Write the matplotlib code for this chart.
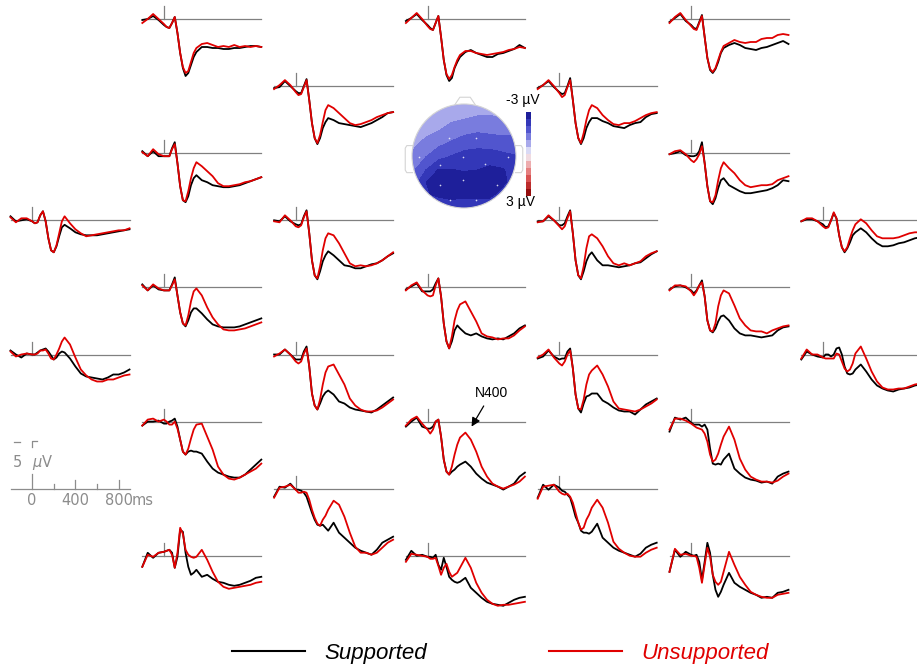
import numpy as np
import matplotlib
matplotlib.use("Agg")
import matplotlib.pyplot as plt
from matplotlib.colors import LinearSegmentedColormap
from matplotlib.patches import Circle, Polygon

plt.rcParams['font.family'] = ['Liberation Sans', 'DejaVu Sans']

W, H = 917, 668

# sample times (ms)
times = [-200, -150, -100, -50, 0, 25, 50, 75, 100, 125, 150, 175, 200, 225, 250,
         275, 300, 350, 400, 450, 500, 550, 600, 650, 700, 750, 800, 850, 900]

# grand averages in microvolts (negative plotted up), named by montage column / row
sup_c1_r0 = [0.1, 0.0, -0.3, 0.1, 0.6, 0.8, 0.9, 0.4, -0.2, 1.4, 3.4, 4.9, 5.7, 5.4, 4.6, 3.8, 3.3, 2.8, 2.8, 2.9, 2.9, 3.0, 3.0, 2.9, 2.9, 2.8, 2.7, 2.7, 2.8]
uns_c1_r0 = [0.4, 0.0, -0.5, 0.0, 0.5, 0.8, 0.9, 0.4, -0.2, 1.4, 3.4, 4.8, 5.4, 5.2, 4.3, 3.4, 2.9, 2.5, 2.4, 2.6, 2.8, 2.7, 2.8, 2.6, 2.8, 2.7, 2.8, 2.7, 2.8]
sup_c1_r2 = [-0.2, 0.3, -0.2, 0.3, 0.3, 0.3, 0.3, -0.5, -1.1, 1.0, 3.3, 4.7, 4.9, 4.3, 3.2, 2.5, 2.2, 2.7, 2.9, 3.2, 3.3, 3.4, 3.4, 3.3, 3.2, 3.0, 2.8, 2.6, 2.4]
uns_c1_r2 = [-0.1, 0.3, -0.4, 0.1, 0.3, 0.3, 0.3, -0.4, -0.9, 1.0, 3.3, 4.7, 4.8, 3.8, 2.5, 1.5, 0.9, 1.3, 1.8, 2.3, 3.0, 3.3, 3.3, 3.2, 3.1, 2.9, 2.8, 2.6, 2.4]
sup_c0_r3 = [-0.4, 0.1, 0.0, -0.1, 0.1, 0.3, 0.2, -0.5, -0.9, 0.1, 1.8, 3.0, 3.2, 2.6, 1.6, 0.7, 0.45, 0.8, 1.2, 1.4, 1.5, 1.5, 1.5, 1.4, 1.3, 1.2, 1.1, 1.0, 0.9]
uns_c0_r3 = [-0.3, 0.2, -0.2, -0.2, 0.1, 0.3, 0.2, -0.5, -0.9, 0.1, 1.8, 3.0, 3.2, 2.5, 1.3, 0.1, -0.4, 0.3, 0.9, 1.3, 1.6, 1.5, 1.4, 1.3, 1.2, 1.1, 1.0, 1.0, 0.8]
sup_c1_r4 = [-0.3, 0.3, -0.2, 0.2, 0.3, 0.3, 0.3, -0.3, -1.0, 0.8, 2.5, 3.6, 3.9, 3.3, 2.5, 2.1, 2.1, 2.6, 3.2, 3.7, 3.9, 4.0, 4.0, 4.0, 3.9, 3.7, 3.5, 3.3, 3.1]
uns_c1_r4 = [-0.2, 0.3, -0.3, 0.1, 0.3, 0.3, 0.3, -0.2, -0.8, 0.8, 2.5, 3.6, 3.8, 2.8, 1.4, 0.4, 0.1, 0.8, 2.0, 3.0, 3.7, 4.2, 4.3, 4.3, 4.2, 4.1, 3.9, 3.7, 3.5]
sup_c0_r5 = [-0.4, 0.0, 0.3, -0.1, 0.0, 0.0, -0.2, -0.4, -0.5, -0.6, -0.3, 0.1, 0.5, 0.3, -0.1, -0.3, -0.2, 0.4, 1.2, 1.9, 2.2, 2.3, 2.4, 2.5, 2.3, 2.0, 2.0, 1.8, 1.5]
uns_c0_r5 = [-0.3, 0.2, 0.0, -0.1, 0.0, 0.0, -0.1, -0.4, -0.4, -0.5, -0.1, 0.4, 0.5, 0.0, -0.6, -1.3, -1.7, -1.0, 0.3, 1.5, 2.1, 2.5, 2.7, 2.7, 2.5, 2.5, 2.3, 2.1, 2.0]
sup_c1_r6 = [0.4, 0.0, 0.0, -0.1, 0.2, 0.2, 0.0, -0.1, -0.3, 0.5, 1.8, 3.0, 3.3, 3.0, 2.9, 3.0, 3.0, 3.2, 4.0, 4.7, 5.1, 5.3, 5.5, 5.6, 5.6, 5.3, 4.8, 4.3, 3.8]
uns_c1_r6 = [0.4, -0.2, -0.3, 0.0, -0.2, 0.0, 0.3, 0.3, 0.0, 0.7, 1.8, 3.0, 3.3, 2.7, 1.7, 0.8, 0.3, 0.2, 1.5, 2.8, 4.5, 5.3, 5.7, 5.8, 5.6, 5.3, 5.0, 4.7, 4.2]
sup_c1_r8 = [1.1, -0.3, 0.2, -0.3, -0.4, -0.5, -0.6, -0.3, 1.2, 0.1, -2.6, -2.4, -0.3, 1.1, 1.9, 1.7, 1.4, 2.1, 1.9, 2.3, 2.6, 2.7, 2.9, 3.0, 2.9, 2.7, 2.5, 2.2, 2.1]
uns_c1_r8 = [1.1, -0.1, 0.1, -0.3, -0.4, -0.5, -0.6, -0.1, 1.2, -0.3, -2.8, -2.2, -0.6, -0.1, 0.1, 0.2, 0.1, -0.6, 0.4, 1.6, 2.6, 3.1, 3.3, 3.2, 3.1, 3.0, 2.9, 2.7, 2.6]
sup_c2_r1 = [0.2, 0.1, -0.5, 0.0, 0.5, 0.7, 0.7, 0.0, -0.7, 1.4, 3.7, 5.2, 5.8, 5.2, 4.2, 3.6, 3.2, 3.4, 3.7, 3.8, 3.9, 4.0, 4.1, 3.9, 3.7, 3.4, 3.1, 2.7, 2.6]
uns_c2_r1 = [0.3, -0.1, -0.6, -0.1, 0.6, 0.9, 0.8, 0.1, -0.6, 1.4, 3.7, 5.2, 5.7, 4.9, 3.6, 2.4, 1.9, 2.2, 2.7, 3.2, 3.7, 3.9, 3.8, 3.6, 3.4, 3.1, 2.9, 2.7, 2.6]
sup_c2_r3 = [0.0, 0.1, -0.4, 0.1, 0.4, 0.5, 0.4, -0.4, -1.0, 1.3, 4.0, 5.5, 5.9, 5.1, 4.1, 3.5, 3.1, 3.5, 4.0, 4.5, 4.6, 4.8, 4.8, 4.6, 4.4, 4.3, 4.0, 3.6, 3.3]
uns_c2_r3 = [0.1, 0.2, -0.5, 0.0, 0.6, 0.7, 0.5, -0.3, -0.9, 1.3, 4.0, 5.5, 5.8, 4.6, 3.0, 1.8, 1.3, 1.5, 2.3, 3.3, 4.3, 4.6, 4.5, 4.6, 4.5, 4.3, 4.0, 3.6, 3.2]
sup_c2_r5 = [0.0, 0.0, -0.5, 0.0, 0.5, 0.5, 0.5, -0.3, -0.8, 1.2, 3.9, 5.1, 5.5, 4.9, 4.2, 3.8, 3.6, 4.0, 4.7, 4.9, 5.3, 5.5, 5.6, 5.7, 5.8, 5.5, 5.1, 4.7, 4.3]
uns_c2_r5 = [0.2, -0.1, -0.5, 0.0, 0.7, 0.9, 0.7, -0.1, -0.6, 1.2, 3.9, 5.1, 5.5, 4.5, 3.0, 1.8, 1.2, 1.0, 2.0, 3.0, 4.4, 5.1, 5.5, 5.7, 5.7, 5.6, 5.3, 4.9, 4.5]
sup_c2_r7 = [0.8, -0.2, -0.1, -0.5, 0.1, 0.1, 0.2, 0.4, 0.8, 1.6, 2.4, 3.1, 3.6, 3.7, 3.6, 3.9, 4.2, 3.4, 4.4, 4.9, 5.4, 5.9, 6.2, 6.4, 6.6, 6.1, 5.4, 5.1, 4.8]
uns_c2_r7 = [0.9, -0.1, -0.2, -0.4, 0.1, 0.4, 0.4, 0.3, 0.4, 1.1, 2.1, 2.9, 3.5, 3.7, 3.1, 2.7, 2.1, 1.2, 1.6, 2.8, 4.4, 5.8, 6.4, 6.4, 6.6, 6.4, 5.9, 5.4, 5.1]
sup_c3_r0 = [0.2, -0.1, -0.5, 0.1, 0.6, 0.9, 1.1, 0.4, -0.3, 1.8, 4.1, 5.6, 6.2, 5.9, 4.9, 4.3, 3.8, 3.3, 3.1, 3.4, 3.6, 3.8, 3.8, 3.5, 3.4, 3.2, 3.0, 2.6, 2.9]
uns_c3_r0 = [0.4, -0.1, -0.6, 0.0, 0.7, 1.0, 1.1, 0.4, -0.3, 1.8, 4.1, 5.5, 6.0, 5.6, 4.8, 4.1, 3.6, 3.2, 3.2, 3.4, 3.5, 3.6, 3.5, 3.4, 3.3, 3.1, 3.0, 2.8, 2.9]
sup_c3_r4 = [0.2, -0.1, -0.4, 0.4, 0.4, 0.4, 0.2, -0.4, -0.9, 0.9, 3.6, 5.4, 6.1, 5.4, 4.3, 3.8, 4.1, 4.6, 4.8, 4.6, 4.9, 5.1, 5.2, 5.1, 5.2, 4.9, 4.6, 4.1, 3.8]
uns_c3_r4 = [0.3, -0.2, -0.5, 0.3, 0.8, 0.9, 0.8, -0.2, -0.9, 0.9, 3.6, 5.4, 6.1, 4.9, 3.3, 2.3, 1.7, 1.4, 2.4, 3.4, 4.6, 4.9, 5.0, 5.2, 5.1, 5.1, 4.8, 4.3, 3.9]
sup_c3_r6 = [0.5, 0.0, -0.4, 0.5, 0.7, 0.7, 0.5, 0.0, -0.2, 1.5, 3.8, 5.0, 5.3, 5.0, 4.8, 4.5, 4.3, 4.0, 4.5, 5.2, 5.7, 6.1, 6.3, 6.5, 6.8, 6.5, 6.2, 5.5, 5.1]
uns_c3_r6 = [0.4, -0.2, -0.5, 0.2, 0.8, 1.2, 0.8, 0.0, -0.2, 1.5, 3.8, 5.0, 5.3, 4.5, 3.3, 2.3, 1.6, 1.1, 1.8, 3.0, 4.5, 5.5, 6.2, 6.5, 6.7, 6.5, 6.3, 6.0, 5.5]
sup_c3_r8 = [0.4, -0.5, 0.0, -0.1, 0.1, 0.1, 0.2, -0.1, 0.9, 1.4, 0.2, 1.1, 2.1, 2.4, 2.6, 2.7, 2.6, 2.2, 3.2, 3.7, 4.2, 4.6, 4.8, 4.9, 5.0, 4.7, 4.4, 4.2, 4.1]
uns_c3_r8 = [0.6, -0.2, -0.1, 0.0, 0.1, 0.3, 0.3, 0.2, 1.0, 1.9, 1.2, 0.8, 1.6, 2.1, 1.9, 1.7, 1.2, 0.2, 1.2, 2.7, 3.7, 4.4, 4.8, 5.0, 4.9, 4.9, 4.8, 4.7, 4.6]
sup_c4_r1 = [0.2, -0.1, -0.5, 0.1, 0.6, 0.8, 0.7, 0.0, -0.8, 1.4, 3.7, 5.2, 5.8, 5.2, 4.2, 3.6, 3.2, 3.2, 3.5, 3.7, 4.0, 4.1, 4.2, 3.9, 3.7, 3.6, 3.1, 2.8, 2.7]
uns_c4_r1 = [0.3, -0.1, -0.6, 0.0, 0.7, 1.1, 0.9, 0.1, -0.6, 1.4, 3.7, 5.2, 5.7, 4.7, 3.4, 2.4, 1.9, 2.2, 2.9, 3.4, 3.8, 3.9, 3.7, 3.7, 3.5, 3.2, 2.9, 2.7, 2.6]
sup_c4_r3 = [0.1, 0.1, -0.4, 0.0, 0.5, 0.5, 0.3, -0.4, -1.0, 1.3, 4.0, 5.5, 5.9, 5.1, 4.1, 3.5, 3.2, 4.0, 4.5, 4.5, 4.6, 4.7, 4.6, 4.5, 4.3, 4.2, 3.8, 3.4, 3.1]
uns_c4_r3 = [0.2, 0.1, -0.5, 0.0, 0.6, 0.9, 0.6, -0.2, -0.9, 1.3, 4.0, 5.5, 5.8, 4.6, 2.8, 1.6, 1.4, 1.8, 2.6, 3.6, 4.3, 4.5, 4.3, 4.5, 4.3, 4.1, 3.6, 3.3, 3.1]
sup_c4_r5 = [0.4, 0.2, -0.4, 0.2, 0.5, 0.4, 0.4, -0.3, -0.6, 1.4, 4.0, 5.4, 5.8, 4.9, 4.2, 4.1, 3.9, 3.9, 4.6, 4.9, 5.3, 5.6, 5.7, 5.7, 6.0, 5.5, 5.0, 4.7, 4.4]
uns_c4_r5 = [0.3, 0.0, -0.5, 0.3, 0.9, 1.1, 0.7, 0.0, -0.4, 1.4, 4.0, 5.4, 5.5, 4.5, 3.0, 2.0, 1.6, 1.1, 2.0, 3.2, 4.7, 5.4, 5.5, 5.6, 5.7, 5.5, 5.2, 4.9, 4.5]
sup_c4_r7 = [0.9, -0.4, 0.1, -0.4, -0.1, 0.2, 0.3, 0.6, 0.9, 1.8, 2.8, 3.4, 4.2, 4.4, 4.4, 4.5, 4.3, 3.5, 4.9, 5.4, 5.9, 6.2, 6.4, 6.6, 6.8, 6.5, 5.9, 5.6, 5.4]
uns_c4_r7 = [1.0, -0.2, -0.3, -0.4, 0.3, 0.5, 0.6, 0.5, 0.8, 1.4, 2.4, 3.4, 4.1, 3.9, 3.1, 2.6, 1.9, 1.1, 1.9, 3.4, 5.3, 6.0, 6.4, 6.7, 6.8, 6.8, 6.4, 6.1, 5.9]
sup_c5_r0 = [0.3, -0.1, -0.5, 0.2, 0.6, 0.9, 1.0, 0.3, -0.4, 1.8, 3.9, 5.1, 5.4, 5.0, 4.3, 3.4, 2.9, 2.6, 2.4, 2.6, 2.9, 3.0, 3.1, 2.9, 2.8, 2.6, 2.4, 2.2, 2.5]
uns_c5_r0 = [0.4, -0.2, -0.6, 0.1, 0.7, 1.0, 1.1, 0.4, -0.3, 1.8, 3.9, 5.0, 5.3, 4.9, 4.1, 3.3, 2.7, 2.4, 2.1, 2.3, 2.4, 2.3, 2.3, 2.0, 1.9, 1.9, 1.6, 1.5, 1.6]
sup_c5_r2 = [0.1, 0.0, -0.2, 0.2, 0.3, 0.3, 0.2, -0.2, -1.1, 1.0, 3.3, 4.8, 5.1, 4.5, 3.5, 2.7, 2.5, 3.2, 3.5, 3.8, 4.0, 4.0, 3.9, 3.8, 3.7, 3.5, 3.2, 2.7, 2.8]
uns_c5_r2 = [0.1, -0.2, -0.3, 0.1, 0.7, 0.9, 0.6, 0.1, -0.7, 1.0, 3.3, 4.8, 4.9, 4.2, 2.7, 1.5, 0.9, 1.5, 2.0, 2.7, 3.2, 3.4, 3.3, 3.2, 3.2, 3.1, 2.7, 2.5, 2.3]
sup_c5_r4 = [0.2, -0.1, -0.2, 0.0, 0.3, 0.6, 0.3, -0.2, -0.7, 0.9, 3.3, 4.3, 4.5, 4.1, 3.4, 2.9, 2.8, 3.3, 4.1, 4.6, 4.8, 4.8, 4.9, 5.0, 4.9, 4.8, 4.3, 4.0, 3.9]
uns_c5_r4 = [0.3, -0.2, -0.2, -0.1, 0.4, 0.8, 0.4, -0.2, -0.5, 0.9, 3.3, 4.3, 4.4, 3.6, 1.9, 0.8, 0.3, 0.6, 1.8, 3.1, 3.8, 4.3, 4.4, 4.4, 4.6, 4.3, 4.1, 3.9, 3.8]
sup_c5_r6 = [1.0, -0.4, -0.2, -0.4, 0.1, 0.3, 0.3, 0.3, 0.5, 0.3, 0.8, 2.7, 4.2, 4.3, 4.2, 4.3, 3.8, 3.2, 4.7, 5.2, 5.6, 5.8, 5.9, 6.1, 6.0, 6.2, 5.5, 5.2, 5.0]
uns_c5_r6 = [0.8, -0.3, -0.3, -0.1, 0.2, 0.4, 0.6, 0.7, 0.8, 1.2, 2.0, 3.3, 4.0, 3.8, 3.2, 2.3, 1.5, 0.5, 1.8, 3.7, 4.8, 5.5, 5.8, 6.0, 6.0, 6.1, 5.9, 5.5, 5.2]
sup_c5_r8 = [1.6, -0.6, 0.1, -0.4, -0.1, 0.0, -0.1, 0.6, 2.4, 0.6, -1.3, -0.3, 1.9, 3.4, 4.1, 3.6, 2.9, 1.7, 2.7, 3.1, 3.4, 3.7, 3.9, 4.2, 4.1, 4.2, 3.7, 3.6, 3.4]
uns_c5_r8 = [1.6, -0.7, -0.1, -0.2, 0.0, 0.0, 0.1, 1.2, 2.7, 0.9, -0.8, 0.1, 1.9, 2.6, 2.9, 2.6, 1.6, -0.4, 0.9, 2.1, 2.9, 3.6, 3.9, 4.1, 4.2, 4.2, 3.9, 3.8, 3.7]
sup_c6_r3 = [0.1, -0.1, -0.1, 0.1, 0.4, 0.7, 0.6, 0.0, -0.7, -0.2, 1.5, 2.7, 3.2, 2.8, 2.2, 1.5, 1.2, 0.8, 1.2, 1.8, 2.3, 2.6, 2.6, 2.5, 2.3, 2.2, 2.0, 1.8, 1.7]
uns_c6_r3 = [0.1, -0.2, -0.2, 0.1, 0.6, 0.8, 0.7, 0.0, -0.8, -0.2, 1.5, 2.7, 3.1, 2.7, 1.8, 1.0, 0.4, -0.1, 0.3, 1.0, 1.6, 1.8, 1.8, 1.8, 1.7, 1.5, 1.3, 1.2, 1.2]
sup_c6_r5 = [0.5, -0.3, 0.0, 0.2, 0.3, 0.0, 0.0, 0.2, 0.0, -0.6, -0.7, 0.0, 1.2, 1.9, 2.0, 1.9, 1.5, 1.0, 1.7, 2.5, 3.1, 3.4, 3.6, 3.7, 3.5, 3.4, 3.3, 3.1, 3.0]
uns_c6_r5 = [0.4, -0.5, 0.0, 0.0, 0.3, 0.4, 0.4, 0.4, 0.4, -0.1, 0.0, 0.7, 1.4, 1.7, 1.5, 0.9, -0.1, -0.8, 0.4, 1.7, 2.7, 3.3, 3.5, 3.5, 3.4, 3.4, 3.2, 3.0, 2.9]

# N400 effect scalp map (microvolts) on a coarse grid, top row = front of head
head_x = [-1.0, -0.75, -0.5, -0.25, 0.0, 0.25, 0.5, 0.75, 1.0]
head_y = [1.0, 0.75, 0.5, 0.25, 0.0, -0.25, -0.5, -0.75, -1.0]
head_z = [
    [-0.55, -0.6, -0.65, -0.7, -0.7, -0.75, -0.8, -0.85, -0.85],
    [-0.6, -0.7, -0.8, -0.9, -0.97, -1.05, -1.05, -1.0, -1.0],
    [-0.75, -0.85, -1.0, -1.2, -1.35, -1.45, -1.4, -1.35, -1.4],
    [-0.9, -1.15, -1.4, -1.6, -1.8, -1.85, -1.8, -1.75, -1.7],
    [-1.1, -1.5, -1.85, -2.05, -2.2, -2.25, -2.3, -2.15, -2.05],
    [-1.4, -2.0, -2.55, -2.52, -2.47, -2.5, -2.6, -2.55, -2.3],
    [-1.7, -2.5, -2.75, -2.8, -2.75, -2.75, -2.8, -2.6, -2.35],
    [-2.0, -2.45, -2.6, -2.65, -2.6, -2.6, -2.6, -2.4, -2.2],
    [-2.2, -2.2, -2.2, -2.3, -2.3, -2.3, -2.3, -2.2, -2.1],
]
elec_x = [-0.28, 0.24, -0.01, -0.46, 0.40, -0.87, 0.85, -0.46, -0.01, 0.64, -0.27, 0.24]
elec_y = [0.34, 0.34, -0.01, -0.17, -0.15, -0.01, -0.01, -0.56, -0.46, -0.56, -0.85, -0.85]

scale_ticks = [0, 200, 400, 600, 800]
scale_tick_len = [1.5, 0.5, 0.9, 0.5, 0.9]

panels = [
    (0, 3, sup_c0_r3, uns_c0_r3), (0, 5, sup_c0_r5, uns_c0_r5),
    (1, 0, sup_c1_r0, uns_c1_r0), (1, 2, sup_c1_r2, uns_c1_r2),
    (1, 4, sup_c1_r4, uns_c1_r4), (1, 6, sup_c1_r6, uns_c1_r6),
    (1, 8, sup_c1_r8, uns_c1_r8),
    (2, 1, sup_c2_r1, uns_c2_r1), (2, 3, sup_c2_r3, uns_c2_r3),
    (2, 5, sup_c2_r5, uns_c2_r5), (2, 7, sup_c2_r7, uns_c2_r7),
    (3, 0, sup_c3_r0, uns_c3_r0), (3, 4, sup_c3_r4, uns_c3_r4),
    (3, 6, sup_c3_r6, uns_c3_r6), (3, 8, sup_c3_r8, uns_c3_r8),
    (4, 1, sup_c4_r1, uns_c4_r1), (4, 3, sup_c4_r3, uns_c4_r3),
    (4, 5, sup_c4_r5, uns_c4_r5), (4, 7, sup_c4_r7, uns_c4_r7),
    (5, 0, sup_c5_r0, uns_c5_r0), (5, 2, sup_c5_r2, uns_c5_r2),
    (5, 4, sup_c5_r4, uns_c5_r4), (5, 6, sup_c5_r6, uns_c5_r6),
    (5, 8, sup_c5_r8, uns_c5_r8),
    (6, 3, sup_c6_r3, uns_c6_r3), (6, 5, sup_c6_r5, uns_c6_r5),
]

RED = '#e00000'
GREY = '#808080'

fig = plt.figure(figsize=(W / 100, H / 100), dpi=100)


def px_axes(left, top, width, height):
    return fig.add_axes([left / W, 1 - (top + height) / H, width / W, height / H])


def panel_axes(col, row):
    # 10 px per microvolt, baseline 20 px below the axes top
    left = 10.5 + 131.8 * col
    base = 19 + 67.1 * row
    ax = px_axes(left, base - 20, 119, 90)
    ax.set_xlim(-200, 900)
    ax.set_ylim(7, -2)
    ax.axis('off')
    return ax


handles = None
for col, row, sup, uns in panels:
    ax = panel_axes(col, row)
    ax.plot([-200, 900], [0, 0], color=GREY, lw=0.9, clip_on=False)
    ax.plot([0, 0], [0, -1.3], color=GREY, lw=0.9, clip_on=False)
    l1, = ax.plot(times, sup, color='black', lw=1.3, clip_on=False)
    l2, = ax.plot(times, uns, color=RED, lw=1.3, clip_on=False)
    if handles is None:
        handles = [l1, l2]
    if (col, row) == (3, 6):
        ax.annotate('N400', xy=(407, 0.5), xytext=(592, -2.9),
                    ha='center', va='center', fontsize=10,
                    arrowprops=dict(arrowstyle='-|>', color='black', lw=0.9,
                                    shrinkA=3, shrinkB=0, mutation_scale=13))

# scale bar
ax = panel_axes(0, 7)
sc = '#8c8c8c'
ax.plot([-200, 900], [0, 0], color=sc, lw=0.9, clip_on=False)
for t, h in zip(scale_ticks, scale_tick_len):
    ax.plot([t, t], [0, -h], color=sc, lw=0.9, clip_on=False)
ax.plot([-170, -114], [-4.7, -4.7], color=sc, lw=0.9, clip_on=False)
ax.plot([0, 0, 45], [-4.2, -4.8, -4.8], color=sc, lw=0.9, clip_on=False)
lab = dict(color=sc, fontsize=10.5, family='DejaVu Sans', va='center')
ax.text(0, 1.2, '0', ha='center', **lab)
ax.text(400, 1.2, '400', ha='center', **lab)
ax.text(800, 1.2, '800', ha='center', **lab)
ax.text(1020, 1.2, 'ms', ha='center', **lab)
ax.text(-140, -2.6, '5', ha='center', **lab)
ax.text(-5, -2.6, r'$\mu$V', ha='left', **lab)

# scalp map
cmap = LinearSegmentedColormap.from_list(
    'erp', [(0.0, '#14148c'), (1 / 6, '#3d42c6'), (2 / 6, '#8e90e6'),
            (0.5, '#f2f2fa'), (4 / 6, '#eb9696'), (5 / 6, '#d23c3c'), (1.0, '#820000')])
levels = np.arange(-3, 3.01, 0.5)
hx = px_axes(464 - 65, 156 - 65, 130, 130)
hx.set_xlim(-1.25, 1.25)
hx.set_ylim(-1.25, 1.25)
hx.axis('off')
cs = hx.contourf(head_x, head_y, np.array(head_z), levels=levels, cmap=cmap)
cs.set_clip_path(Circle((0, 0), 1.0, transform=hx.transData))
outline = '#d4d4d4'
hx.add_patch(Circle((0, 0), 1.0, fill=False, ec=outline, lw=0.8))
hx.add_patch(Polygon([(-0.18, 0.98), (-0.08, 1.13), (0.12, 1.13), (0.22, 0.98)],
                     closed=False, fill=False, ec=outline, lw=0.8))
for s in (-1, 1):
    hx.plot([s * 0.99, s * 1.1, s * 1.13, s * 1.13, s * 1.1, s * 0.99],
            [0.2, 0.2, 0.15, -0.27, -0.32, -0.32], color=outline, lw=0.8)
hx.plot(elec_x, elec_y, 'o', ms=1.2, mec='none', mfc='white', alpha=0.8)

cax = px_axes(526, 112, 5, 84)
cb = fig.colorbar(cs, cax=cax)
cb.ax.invert_yaxis()
cb.set_ticks([])
cb.outline.set_visible(False)
fig.text(523 / W, 1 - 100 / H, '-3 µV', ha='center', va='center', fontsize=10)
fig.text(520 / W, 1 - 202 / H, '3 µV', ha='center', va='center', fontsize=10)

# legend
leg = fig.legend(handles, ['Supported', 'Unsupported'], loc='center',
                 bbox_to_anchor=(0.546, 1 - 653 / H), ncol=2, frameon=False,
                 handlelength=3.25, handletextpad=0.9, columnspacing=5.5,
                 prop=dict(family='Liberation Sans', style='italic', size=16))
for line in leg.get_lines():
    line.set_linewidth(1.5)
for text, c in zip(leg.get_texts(), ['black', RED]):
    text.set_color(c)

fig.savefig('out.png', dpi=100)
